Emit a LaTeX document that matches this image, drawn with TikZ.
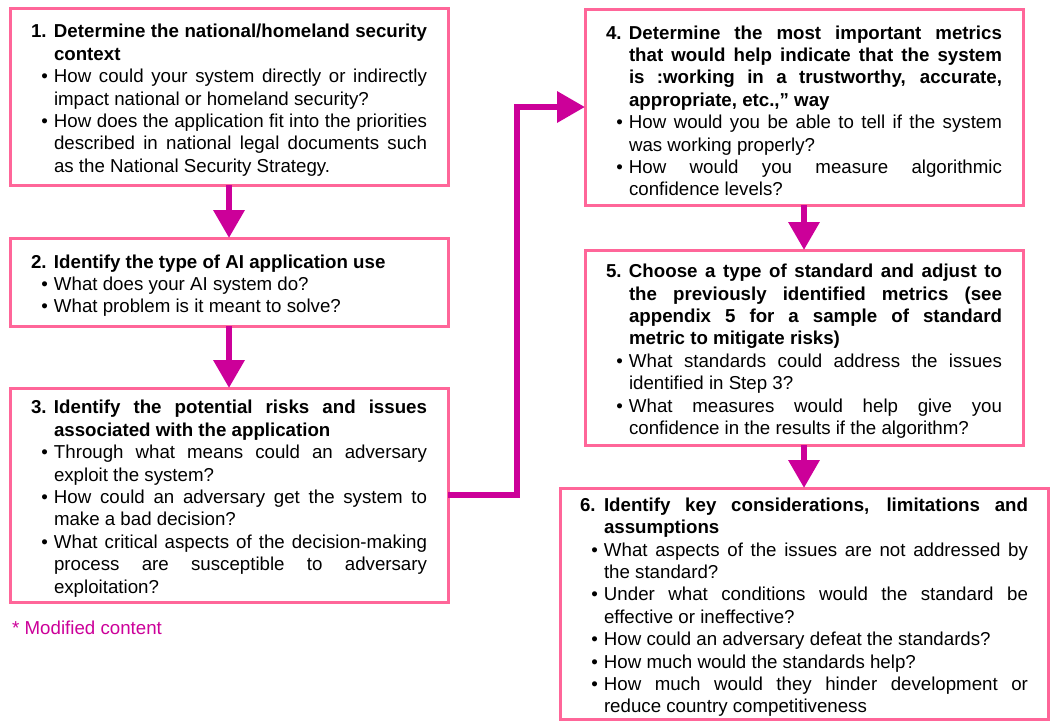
\documentclass[tikz,border=0pt]{standalone}
\usepackage{fontspec}
\setmainfont{Liberation Sans}
\usetikzlibrary{arrows.meta,positioning}

\definecolor{boxpink}{RGB}{255,102,153}
\definecolor{flowpink}{RGB}{204,0,153}

\tolerance=10000
\hbadness=10000
\hyphenpenalty=10000
\exhyphenpenalty=10000

\newlength{\numindent}
\setlength{\numindent}{23pt}
\newlength{\headstrut}
\setlength{\headstrut}{21pt}
\newcommand{\stephead}[2]{\noindent\hangindent=\numindent\hangafter=1
  \rule{0pt}{\headstrut}{\bfseries\makebox[\numindent][l]{#1}#2}\par}
\newcommand{\stepitem}[1]{\noindent\hangindent=\numindent\hangafter=0
  \llap{\textbullet\hspace{6pt}}#1\par}

\begin{document}
\begin{tikzpicture}[x=1pt,y=-1pt,
  stepbox/.style={draw=boxpink,line width=3pt,fill=white,anchor=north west,outer sep=0pt,
    inner xsep=21pt,inner ysep=4pt,text width=396pt,align=justify,
    font=\fontsize{18.7}{22.4}\selectfont},
  flow/.style={draw=flowpink,line width=6.5pt,-{Triangle[width=30pt,length=28pt]}}]
\useasboundingbox (0,0) rectangle (1051,721);

\node[stepbox,minimum height=177pt] (b1) at (10,8) {%
  \stephead{1.}{Determine the national/homeland security\linebreak context}
  \stepitem{How could your system directly or indirectly\linebreak impact national or homeland security?}
  \stepitem{How does the application fit into the priorities\linebreak described in national legal documents such\linebreak as the National Security Strategy.}};

\node[stepbox,minimum height=88pt] (b2) at (10,238) {%
  \stephead{2.}{Identify the type of AI application use}
  \stepitem{What does your AI system do?}
  \stepitem{What problem is it meant to solve?}};

\node[stepbox,minimum height=214pt] (b3) at (10,388) {%
  \stephead{3.}{Identify the potential risks and issues\linebreak associated with the application}
  \stepitem{Through what means could an adversary\linebreak exploit the system?}
  \stepitem{How could an adversary get the system to\linebreak make a bad decision?}
  \stepitem{What critical aspects of the decision-making\linebreak process are susceptible to adversary\linebreak exploitation?}};

\node[stepbox,minimum height=196pt] (b4) at (585,9) {%
  \stephead{4.}{Determine the most important metrics\linebreak that would help indicate that the system\linebreak is :working in a trustworthy, accurate,\linebreak appropriate, etc.,” way}
  \stepitem{How would you be able to tell if the system\linebreak was working properly?}
  \stepitem{How would you measure algorithmic\linebreak confidence levels?}};

\node[stepbox,minimum height=195pt] (b5) at (585,250) {%
  \stephead{5.}{Choose a type of standard and adjust to\linebreak the previously identified metrics (see\linebreak appendix 5 for a sample of standard\linebreak metric to mitigate risks)}
  \stepitem{What standards could address the issues\linebreak identified in Step 3?}
  \stepitem{What measures would help give you\linebreak confidence in the results if the algorithm?}};

\node[stepbox,minimum height=231pt,text width=448pt,inner xsep=20pt,inner ysep=0pt] (b6) at (560,488) {%
  \setlength{\numindent}{24pt}%
  \stephead{6.}{Identify key considerations, limitations and\linebreak assumptions}
  \stepitem{What aspects of the issues are not addressed by\linebreak the standard?}
  \stepitem{Under what conditions would the standard be\linebreak effective or ineffective?}
  \stepitem{How could an adversary defeat the standards?}
  \stepitem{How much would the standards help?}
  \stepitem{How much would they hinder development or\linebreak reduce country competitiveness}};

\node[anchor=base west,inner sep=0pt,text=flowpink,font=\fontsize{18.7}{22.4}\selectfont] (note) at (12,634) {* Modified content};

\draw[flow] (b1.south) -- (b2.north);
\draw[flow] (b2.south) -- (b3.north);
\draw[flow] (b3.east) -- ++(69,0) |- (b4.west);
\draw[flow] (b4.south) -- (b5.north);
\draw[flow] (b5.south) -- (b6.north);
\end{tikzpicture}
\end{document}
